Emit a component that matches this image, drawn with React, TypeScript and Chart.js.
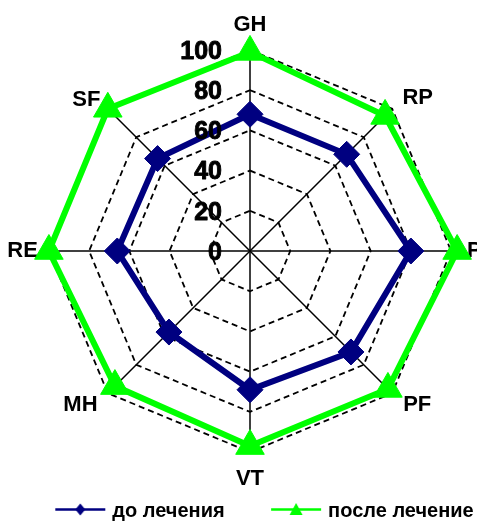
import React, { useEffect, useRef } from 'react';
import { Chart, registerables } from 'chart.js';

Chart.register(...registerables);

const categories = ['GH', 'RP', 'P', 'PF', 'VT', 'MH', 'RE', 'SF'];
const beforeValues = [68, 68, 80, 71, 69, 57, 66, 65];
const afterValues = [99, 95, 103, 97, 97, 95, 100, 100];
const seriesNames = ['до лечения', 'после лечение'];
const tickValues = [0, 20, 40, 60, 80, 100];

const NAVY = '#000080';
const GREEN = '#00ff00';
const FONT = "'Liberation Sans', Arial, sans-serif";

const labelPadding = [12, 14.5, 16, 15.5, 14, 14.5, 11, 10.5];

function makeLegendImage(color: string, marker: 'diamond' | 'triangle') {
  const c = document.createElement('canvas');
  c.width = 96;
  c.height = 24;
  const g = c.getContext('2d')!;
  const ly = 10.5;
  g.strokeStyle = color;
  g.lineWidth = 2.5;
  g.beginPath();
  g.moveTo(44, ly);
  g.lineTo(94, ly);
  g.stroke();
  g.fillStyle = color;
  g.beginPath();
  const mx = 69;
  if (marker === 'diamond') {
    g.moveTo(mx, ly - 6);
    g.lineTo(mx + 5, ly);
    g.lineTo(mx, ly + 6);
    g.lineTo(mx - 5, ly);
  } else {
    g.moveTo(mx, ly - 6.5);
    g.lineTo(mx + 6.5, ly + 5.5);
    g.lineTo(mx - 6.5, ly + 5.5);
  }
  g.closePath();
  g.fill();
  return c;
}

const tickLabelPlugin = {
  id: 'tickLabelsLeft',
  afterDatasetsDraw(chart: any) {
    const scale = chart.scales.r;
    const ctx = chart.ctx;
    ctx.save();
    ctx.font = `bold 25px ${FONT}`;
    ctx.fillStyle = '#000';
    ctx.strokeStyle = '#000';
    ctx.lineWidth = 0.9;
    ctx.lineJoin = 'round';
    ctx.textAlign = 'right';
    ctx.textBaseline = 'middle';
    scale.ticks.forEach((t: any) => {
      const d = scale.getDistanceFromCenterForValue(t.value);
      const x = scale.xCenter - 28;
      const y = scale.yCenter - d + 2;
      ctx.fillText(String(t.value), x, y);
      ctx.strokeText(String(t.value), x, y);
    });
    ctx.restore();
  },
};

export default function App() {
  const ref = useRef<HTMLCanvasElement>(null);

  useEffect(() => {
    if (!ref.current) return;
    const imgs = [makeLegendImage(NAVY, 'diamond'), makeLegendImage(GREEN, 'triangle')];
    const chart = new Chart(ref.current, {
      type: 'radar',
      data: {
        labels: categories,
        datasets: [
          {
            label: seriesNames[0],
            data: beforeValues,
            borderColor: NAVY,
            backgroundColor: NAVY,
            borderWidth: 6,
            borderJoinStyle: 'miter',
            fill: false,
            pointStyle: 'rectRot',
            pointRadius: 13,
            pointHoverRadius: 13,
            pointBorderWidth: 1,
            pointBackgroundColor: NAVY,
            pointBorderColor: NAVY,
          },
          {
            label: seriesNames[1],
            data: afterValues,
            borderColor: GREEN,
            backgroundColor: GREEN,
            borderWidth: 6,
            borderJoinStyle: 'miter',
            fill: false,
            pointStyle: 'triangle',
            pointRadius: 16.5,
            pointHoverRadius: 16.5,
            pointBorderWidth: 1,
            pointBackgroundColor: GREEN,
            pointBorderColor: GREEN,
          },
        ],
      },
      options: {
        responsive: false,
        animation: false,
        events: [],
        layout: { padding: { top: 11, bottom: 0, left: 0, right: 0 } },
        scales: {
          r: {
            min: 0,
            max: 100,
            afterBuildTicks: (scale: any) => {
              scale.ticks = tickValues.map((v) => ({ value: v }));
            },
            ticks: { display: false, stepSize: 20, showLabelBackdrop: false },
            grid: {
              circular: false,
              color: '#000',
              lineWidth: 1.8,
              borderDash: [6, 4],
            } as any,
            border: { dash: [6, 4] } as any,
            angleLines: { display: true, color: '#000', lineWidth: 1.5 },
            pointLabels: {
              color: '#000',
              padding: (ctx: any) => labelPadding[ctx.index],
              font: (ctx: any) => {
                const diag = ctx.index % 2 === 1;
                return { family: FONT, size: 22, weight: 'bold', lineHeight: diag ? 0.1 : 1.2 };
              },
            },
          },
        },
        plugins: {
          legend: {
            display: true,
            position: 'bottom',
            labels: {
              usePointStyle: true,
              pointStyleWidth: 86,
              padding: 7.5,
              color: '#000',
              font: { family: FONT, size: 20, weight: 'bold' },
              generateLabels: () =>
                seriesNames.map((name, i) => ({
                  text: name,
                  pointStyle: imgs[i],
                  fillStyle: i === 0 ? NAVY : GREEN,
                  strokeStyle: i === 0 ? NAVY : GREEN,
                  lineWidth: 0,
                  hidden: false,
                  datasetIndex: i,
                  fontColor: '#000',
                })),
            },
          },
          tooltip: { enabled: false },
        },
      } as any,
      plugins: [tickLabelPlugin],
    });
    return () => chart.destroy();
  }, []);

  return (
    <div
      style={{
        position: 'fixed',
        left: 0,
        top: 0,
        width: 477,
        height: 521,
        overflow: 'hidden',
        background: '#fff',
      }}
    >
      <canvas
        ref={ref}
        width={530}
        height={531}
        style={{ position: 'absolute', left: -20, top: 0, width: 530, height: 531 }}
      />
    </div>
  );
}
